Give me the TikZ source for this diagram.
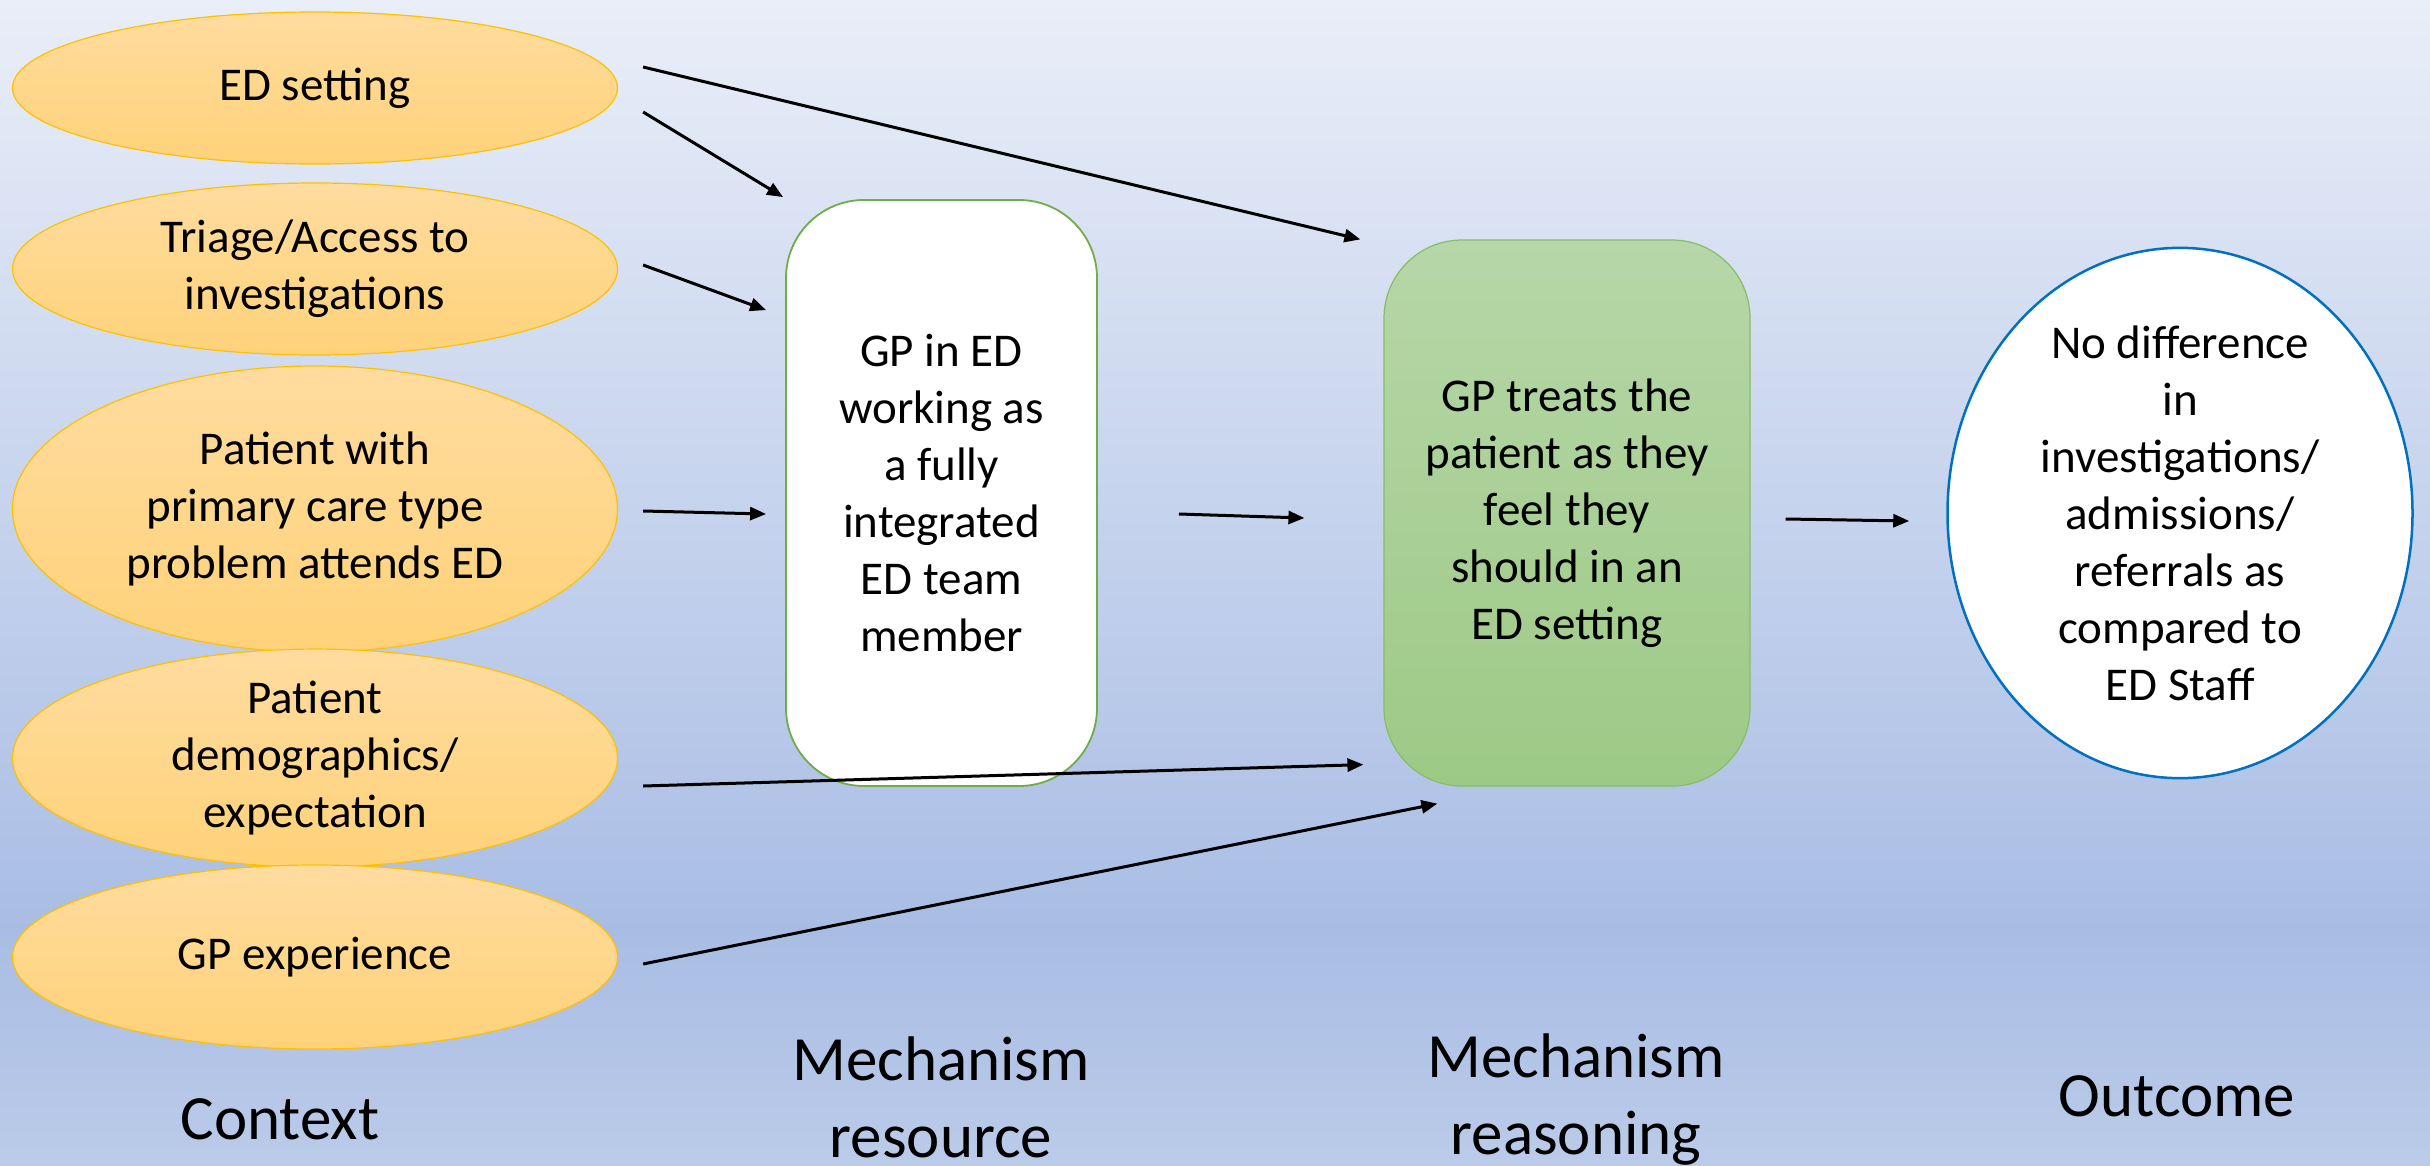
\documentclass[tikz,border=0pt]{standalone}
\usepackage{fontspec}
\setmainfont{Carlito}
\usetikzlibrary{arrows.meta,positioning,shapes.geometric,calc}
\definecolor{bgTop}{HTML}{E9EEF8}
\definecolor{bgMid}{HTML}{A9BDE4}
\definecolor{bgBot}{HTML}{BBCBE9}
\definecolor{ctxTop}{HTML}{FFDC9F}
\definecolor{ctxBot}{HTML}{FFD279}
\definecolor{ctxLine}{HTML}{FFC000}
\definecolor{resLine}{HTML}{70AD47}
\definecolor{reaTop}{HTML}{B6D7A8}
\definecolor{reaBot}{HTML}{9DC985}
\definecolor{reaLine}{HTML}{86BE66}
\definecolor{outLine}{HTML}{0070C0}

\begin{document}
\begin{tikzpicture}[
  x=1pt, y=-1pt,
  >={Triangle[length=16pt,width=13pt]},
  every node/.style={font=\fontsize{47}{57}\selectfont, align=center},
  ctx/.style={ellipse, draw=ctxLine, line width=1.2pt, top color=ctxTop, bottom color=ctxBot, minimum width=605pt, inner sep=0pt},
  res/.style={draw=resLine, line width=1.8pt, fill=white, rounded corners=78pt, minimum width=311pt, minimum height=586pt},
  rea/.style={draw=reaLine, line width=1.2pt, top color=reaTop, bottom color=reaBot, rounded corners=78pt, minimum width=366pt, minimum height=546pt},
  outc/.style={ellipse, draw=outLine, line width=2.5pt, fill=white, minimum width=465pt, minimum height=508pt, inner sep=0pt},
  head/.style={font=\fontsize{63}{77}\selectfont},
  arr/.style={->, line width=3pt}
]

% background
\useasboundingbox (0,0) rectangle (2430,1165);
\shade[top color=bgTop, bottom color=bgMid] (0,0) rectangle (2430,930);
\shade[top color=bgMid, bottom color=bgBot] (0,929) rectangle (2430,1165);

% context
\node[ctx, minimum height=152pt] (edset) at (315,88) {ED setting};
\node[ctx, minimum height=172pt] (triage) at (315,269) {Triage/Access to\\investigations};
\node[ctx, minimum height=286pt] (patient) at (315,509) {Patient with\\primary care type\\problem attends ED};
\node[ctx, minimum height=180pt] (demog) at (315,758) {Patient\\demographics/\\expectation};
\node[ctx, minimum height=184pt] (gpexp) at (315,957) {GP experience};

% mechanisms and outcome
\node[res] (mres) at (941.5,493) {GP in ED\\working as\\a fully\\integrated\\ED team\\member};
\node[rea] (mrea) at (1567,513) {GP treats the\\patient as they\\feel they\\should in an\\ED setting};
\node[outc] (outc) at (2180,513) {No difference\\in\\investigations/\\admissions/\\referrals as\\compared to\\ED Staff};

% column heads
\node[head] (hctx) at (280,1119) {Context};
\node[head] (hres) at (941,1097) {Mechanism\\resource};
\node[head] (hrea) at (1576,1100) {Mechanism\\reasoning};
\node[head] (hout) at (2177,1096) {Outcome};

% connectors
\draw[arr] ($(edset.east)+(25,-21)$) -- ($(mrea.north west)+(-23,0)$);
\draw[arr] ($(edset.east)+(25,24)$) -- ($(mres.north west)+(-2,-2)$);
\draw[arr] ($(triage.east)+(25,-4)$) -- ($(mres.north west)+(-19,111)$);
\draw[arr] ($(patient.east)+(25,2)$) -- ($(mres.west)+(-19,21)$);
\draw[arr] ($(mres.east)+(81,21)$) -- ($(mrea.west)+(-79,5)$);
\draw[arr] ($(demog.east)+(25,28)$) -- ($(mrea.south west)+(-20,-22)$);
\draw[arr] ($(gpexp.east)+(25,7)$) -- ($(mrea.south west)+(54,17)$);
\draw[arr] ($(mrea.east)+(35,6)$) -- ($(outc.west)+(-37,8)$);

\end{tikzpicture}
\end{document}
